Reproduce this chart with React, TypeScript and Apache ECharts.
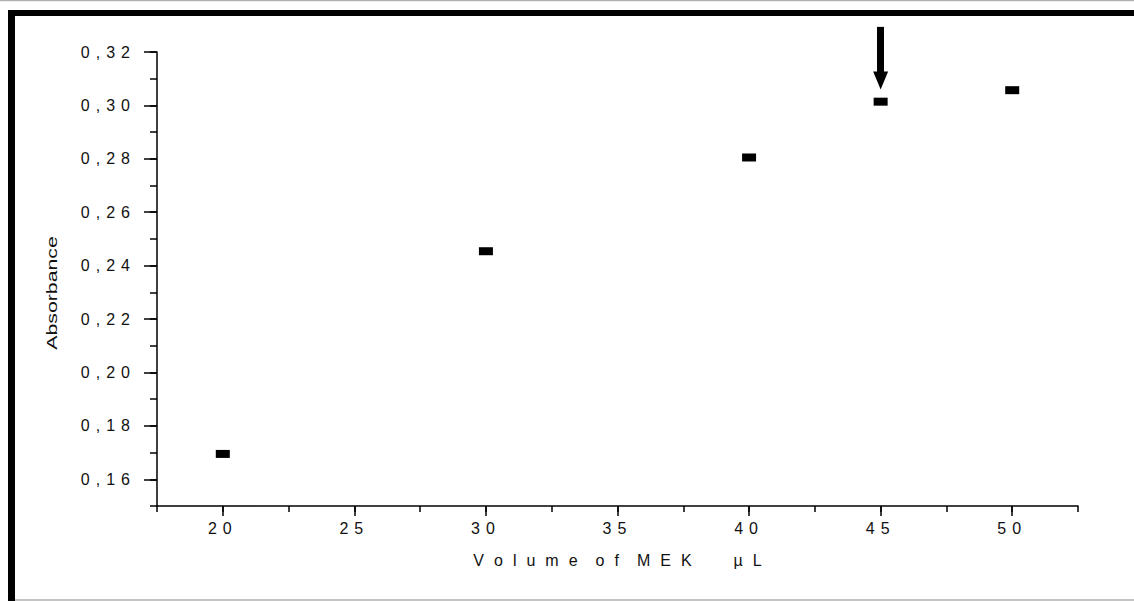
import React, { useEffect, useRef } from 'react';
import * as echarts from 'echarts';

// ---- data ----
const volumes = [20, 30, 40, 45, 50];
const absorbance = [0.1695, 0.2454, 0.2805, 0.3014, 0.3057];

// axis ranges / ticks
const xMin = 17.5;
const xMax = 52.5;
const xMinorStep = 2.5;
const xMajorMin = 20;
const xMajorMax = 50;
const xMajorStep = 5;
const yMin = 0.15;
const yMax = 0.32;
const yMinorStep = 0.01;
const yMajorMin = 0.16;
const yMajorStep = 0.02;

// arrow annotation (data units)
const arrowX = 45;
const arrowStart = 0.3294;
const arrowEnd = 0.3093;

const xTitleWords = ['Volume', 'of', 'MEK', 'µL'];
const yTitle = 'Absorbance';

const W = 1134;
const H = 601;
const FONT = '"Liberation Sans", Arial, sans-serif';

function spaced(s: string): string {
  return s.split('').map((ch) => `{c|${ch}}`).join('');
}

export default function App() {
  const ref = useRef<HTMLDivElement>(null);
  useEffect(() => {
    if (!ref.current) return;
    const chart = echarts.init(ref.current, null, { renderer: 'svg' });

    const gLeft = 157;
    const gRight = 56;
    const gTop = 52;
    const gBottom = 95;
    const plotW = W - gLeft - gRight;
    const plotH = H - gTop - gBottom;
    const ux = plotW / (xMax - xMin);
    const uy = plotH / (yMax - yMin);

    const xTitle =
      spaced(xTitleWords[0]) + '{g| }' + spaced(xTitleWords[1]) + '{g| }' +
      spaced(xTitleWords[2]) + '{G| }' + spaced(xTitleWords[3]);

    const axisColor = '#000';
    const textColor = '#111';
    const charRich = {
      c: { fontSize: 16, fontFamily: FONT, color: textColor, padding: [0, 3, 0, 3] },
      p: { width: 6, fontSize: 16 },
    };

    const option: any = {
      animation: false,
      backgroundColor: '#fff',
      grid: [
        { left: gLeft, right: gRight, top: gTop, bottom: gBottom, outerBoundsMode: 'none' },
        {
          left: gLeft + (xMajorMin - xMin) * ux,
          right: gRight + (xMax - xMajorMax) * ux,
          top: gTop,
          bottom: gBottom,
          outerBoundsMode: 'none',
        },
        {
          left: gLeft,
          right: gRight,
          top: gTop,
          bottom: gBottom + (yMajorMin - yMin) * uy,
          outerBoundsMode: 'none',
        },
      ],
      xAxis: [
        {
          gridIndex: 0,
          type: 'value',
          min: xMin,
          max: xMax,
          interval: xMinorStep,
          axisLine: { show: true, lineStyle: { color: axisColor, width: 1.5 } },
          axisTick: { show: true, length: 6, lineStyle: { color: axisColor, width: 1.5 } },
          axisLabel: { show: false },
          splitLine: { show: false },
          name: xTitle,
          nameLocation: 'middle',
          nameGap: 46,
          nameTextStyle: {
            rich: {
              c: { fontSize: 16, fontFamily: FONT, color: textColor, padding: [0, 5, 0, 5] },
              g: { width: 8, fontSize: 16 },
              G: { width: 32, fontSize: 16 },
            },
          },
        },
        {
          gridIndex: 1,
          type: 'value',
          min: xMajorMin,
          max: xMajorMax,
          interval: xMajorStep,
          axisLine: { show: false },
          axisTick: { show: true, length: 10, lineStyle: { color: axisColor, width: 1.5 } },
          axisLabel: {
            show: true,
            margin: 14,
            formatter: (v: number) => spaced(String(v)) + '{p| }',
            rich: charRich,
          },
          splitLine: { show: false },
        },
        {
          gridIndex: 2,
          type: 'value',
          min: xMin,
          max: xMax,
          show: false,
        },
      ],
      yAxis: [
        {
          gridIndex: 0,
          type: 'value',
          min: yMin,
          max: yMax,
          interval: yMinorStep,
          axisLine: { show: true, lineStyle: { color: axisColor, width: 1.5 } },
          axisTick: { show: true, length: 7, lineStyle: { color: axisColor, width: 1.5 } },
          axisLabel: { show: false },
          splitLine: { show: false },
        },
        {
          gridIndex: 1,
          type: 'value',
          min: yMin,
          max: yMax,
          show: false,
        },
        {
          gridIndex: 2,
          type: 'value',
          min: yMajorMin,
          max: yMax,
          interval: yMajorStep,
          axisLine: { show: false },
          axisTick: { show: true, length: 13, lineStyle: { color: axisColor, width: 1.5 } },
          axisLabel: {
            show: true,
            margin: 24,
            formatter: (v: number) => spaced(v.toFixed(2).replace('.', ',')),
            rich: charRich,
          },
          splitLine: { show: false },
        },
      ],
      graphic: [
        { type: 'line', shape: { x1: 0, y1: 0.5, x2: W, y2: 0.5 }, style: { stroke: '#b0b0b0', lineWidth: 1.5 } },
        { type: 'rect', shape: { x: 8, y: 10, width: W - 8, height: 6 }, style: { fill: '#000' } },
        { type: 'rect', shape: { x: 8, y: 10, width: 7, height: H - 10 }, style: { fill: '#000' } },
        { type: 'line', shape: { x1: 15, y1: 600, x2: W, y2: 600 }, style: { stroke: '#b0b0b0', lineWidth: 1.5 } },
        {
          type: 'text',
          x: 52,
          y: 293,
          rotation: Math.PI / 2,
          scaleX: 1.42,
          style: {
            text: yTitle,
            fontSize: 15,
            fontFamily: FONT,
            fill: textColor,
            align: 'center',
            verticalAlign: 'middle',
          },
        },
      ],
      series: [
        {
          type: 'scatter',
          xAxisIndex: 0,
          yAxisIndex: 0,
          symbol: 'rect',
          symbolSize: [14, 8],
          itemStyle: { color: '#000', opacity: 1 },
          data: volumes.map((v, i) => [v, absorbance[i]]),
          silent: true,
        },
        {
          type: 'lines',
          coordinateSystem: 'cartesian2d',
          xAxisIndex: 0,
          yAxisIndex: 0,
          clip: false,
          symbol: ['none', 'triangle'],
          symbolSize: [0, [15, 18]],
          color: '#000',
          lineStyle: { color: '#000', width: 7, opacity: 1 },
          data: [{ coords: [[arrowX, arrowStart], [arrowX, arrowEnd]] }],
          silent: true,
        },
      ],
    };

    chart.setOption(option);
    return () => chart.dispose();
  }, []);

  return (
    <div
      ref={ref}
      style={{ position: 'fixed', left: 0, top: 0, width: W, height: H, background: '#fff' }}
    />
  );
}
